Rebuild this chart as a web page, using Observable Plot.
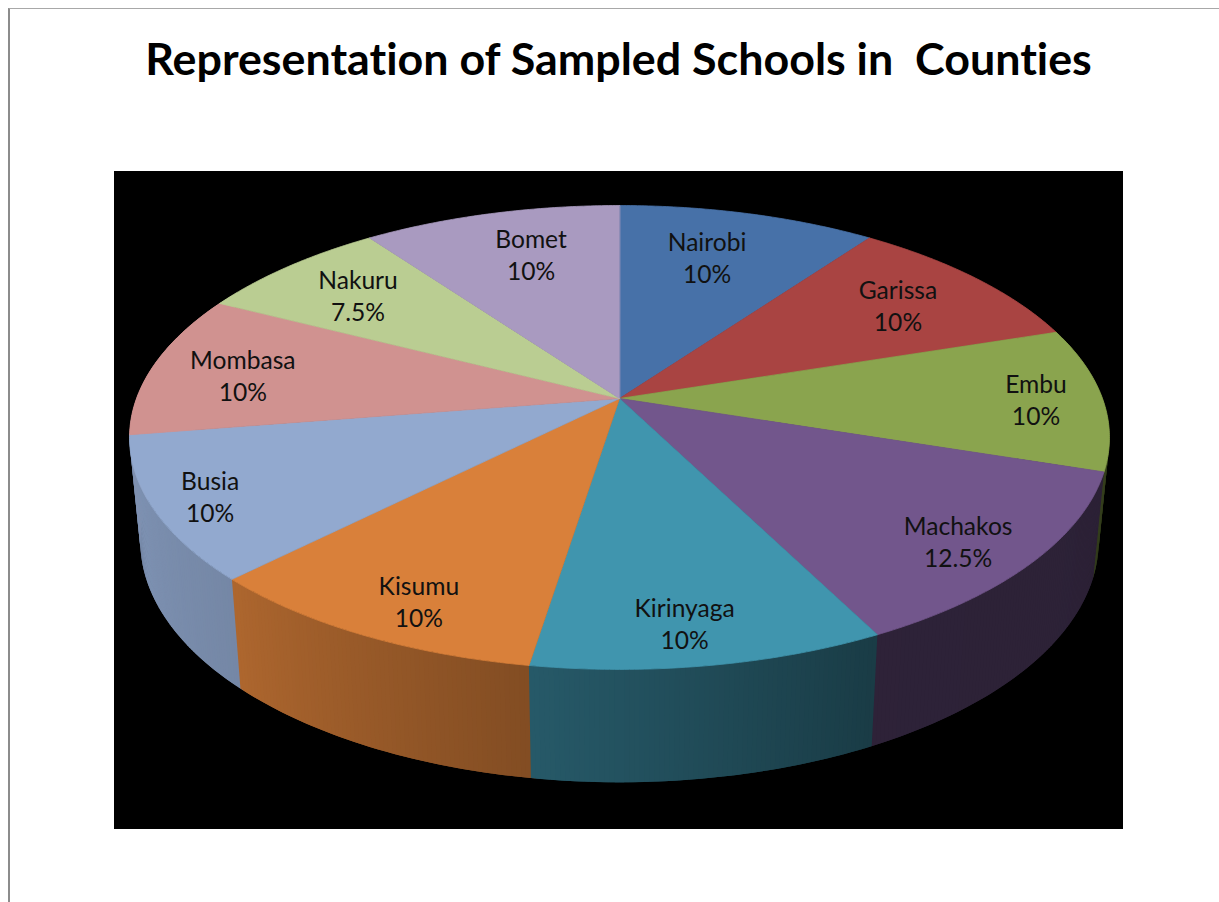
<!DOCTYPE html>
<html>
<head>
<meta charset="utf-8">
<script src="https://cdn.jsdelivr.net/npm/d3@7"></script>
<script src="https://cdn.jsdelivr.net/npm/@observablehq/plot@0.6"></script>
<style>
  html, body { margin: 0; padding: 0; background: #fff; }
  #page { position: relative; width: 1219px; height: 902px; overflow: hidden; }
  #frame { position: absolute; left: 8px; top: 8px; right: -4px; bottom: -4px;
           border-left: 2px solid #8c8c8c; border-top: 1px solid #a8a8a8; }
  #title { position: absolute; left: 0; top: 31px; width: 1237px; text-align: center; margin: 0;
           font: 700 44.8px/54px Lato, sans-serif; font-variant-ligatures: none; white-space: pre; color: #000; }
  #chart { position: absolute; left: 114px; top: 171px; width: 1009px; height: 658px; background: #000; }
  #chart svg { display: block; background: #000; }
</style>
</head>
<body>
<div id="page">
  <div id="frame"></div>
  <h1 id="title">Representation of Sampled Schools in  Counties</h1>
  <div id="chart"></div>
</div>
<script>
// Data
const counties = ["Nairobi","Garissa","Embu","Machakos","Kirinyaga","Kisumu","Busia","Mombasa","Nakuru","Bomet"];
const shares   = [10,10,10,12.5,10,10,10,10,7.5,10];
const colors   = ["#4771A8","#A94442","#8AA44E","#72568C","#4095AE","#D9803A","#92A9CF","#D09290","#BACD92","#A99AC0"];
// Where each label sits on the disc: fraction of the radius and bearing in degrees
const labelRadius  = [0.721,0.757,0.860,0.856,0.866,0.865,0.890,0.800,0.764,0.739];
const labelBearing = [16.2,54.7,90.6,132.4,172.4,204.7,242.6,277.1,309.8,343.8];

// Perspective of the disc
const A = 483, B = 225.4, P = 0.168;
const project = (deg, r = 1) => {
  const t = deg * Math.PI / 180, u = r * Math.sin(t), v = r * Math.cos(t), w = 1 + P * v;
  return [A * u / w, -B * v / w];
};
const lower = ([x, y]) => [0.978 * x, 1.04 * y + 102];

// Side shading against bearing
const shade = d3.scaleLinear().domain([90,153,189,225,270]).range([0.38,0.40,0.60,0.80,0.90]).clamp(true);
const darken = (c, k) => { const o = d3.rgb(c); return d3.rgb(o.r*k, o.g*k, o.b*k).formatHex(); };

const total = d3.sum(shares);
let acc = 0;
const slices = counties.map((name, i) => {
  const a0 = acc / total * 360; acc += shares[i]; const a1 = acc / total * 360;
  return {name, share: shares[i], color: colors[i], a0, a1};
});

const faces = [], strips = [];
slices.forEach(s => {
  const n = Math.ceil((s.a1 - s.a0) * 2);
  const step = (s.a1 - s.a0) / n;
  const angle = k => s.a0 + step * k;
  faces.push({id: s.name, color: s.color, p: [0, 0]});
  d3.range(n + 1).forEach(k => faces.push({id: s.name, color: s.color, p: project(angle(k))}));
  d3.range(n).forEach(k => {
    const a = angle(k), b = angle(k + 1), m = (a + b) / 2;
    if (m < 60 || m > 300) return;
    // Each strip reaches under the next one painted, so no seams show
    const [from, to] = m < 180 ? [a, b + step] : [a - step, b];
    strips.push({id: s.name + k, color: darken(s.color, shade(m)), m, from, to});
  });
});
// Paint from the hidden edges towards the front
strips.sort((p, q) => Math.abs(q.m - 180) - Math.abs(p.m - 180));
const sides = strips.flatMap(({id, color, from, to}) => {
  const pa = project(from), pb = project(to);
  return [pa, pb, lower(pb), lower(pa)].map(p => ({id, color, p}));
});

const labels = slices.map((s, i) => {
  const p = project(labelBearing[i], labelRadius[i]);
  return {text: `${s.name}\n${s.share}%`, p};
});

const fig = Plot.plot({
  width: 1009, height: 658, margin: 0,
  style: {background: "#000"},
  x: {domain: [-505, 504], range: [0, 1009], axis: null},
  y: {domain: [-227, 431], range: [0, 658], axis: null},
  marks: [
    Plot.line(sides, {x: d => d.p[0], y: d => d.p[1], z: "id", fill: "color", stroke: "none", curve: "linear-closed"}),
    Plot.line(faces, {x: d => d.p[0], y: d => d.p[1], z: "id", fill: "color", stroke: "color", strokeWidth: 0.8, curve: "linear-closed"}),
    Plot.text(labels, {x: d => d.p[0], y: d => d.p[1], dx: 0.5, dy: -1.5, text: "text", fill: "#111", fontSize: 24.6, lineHeight: 1.3, fontFamily: "Lato, sans-serif"})
  ]
});
document.getElementById("chart").append(fig);
</script>
</body>
</html>
